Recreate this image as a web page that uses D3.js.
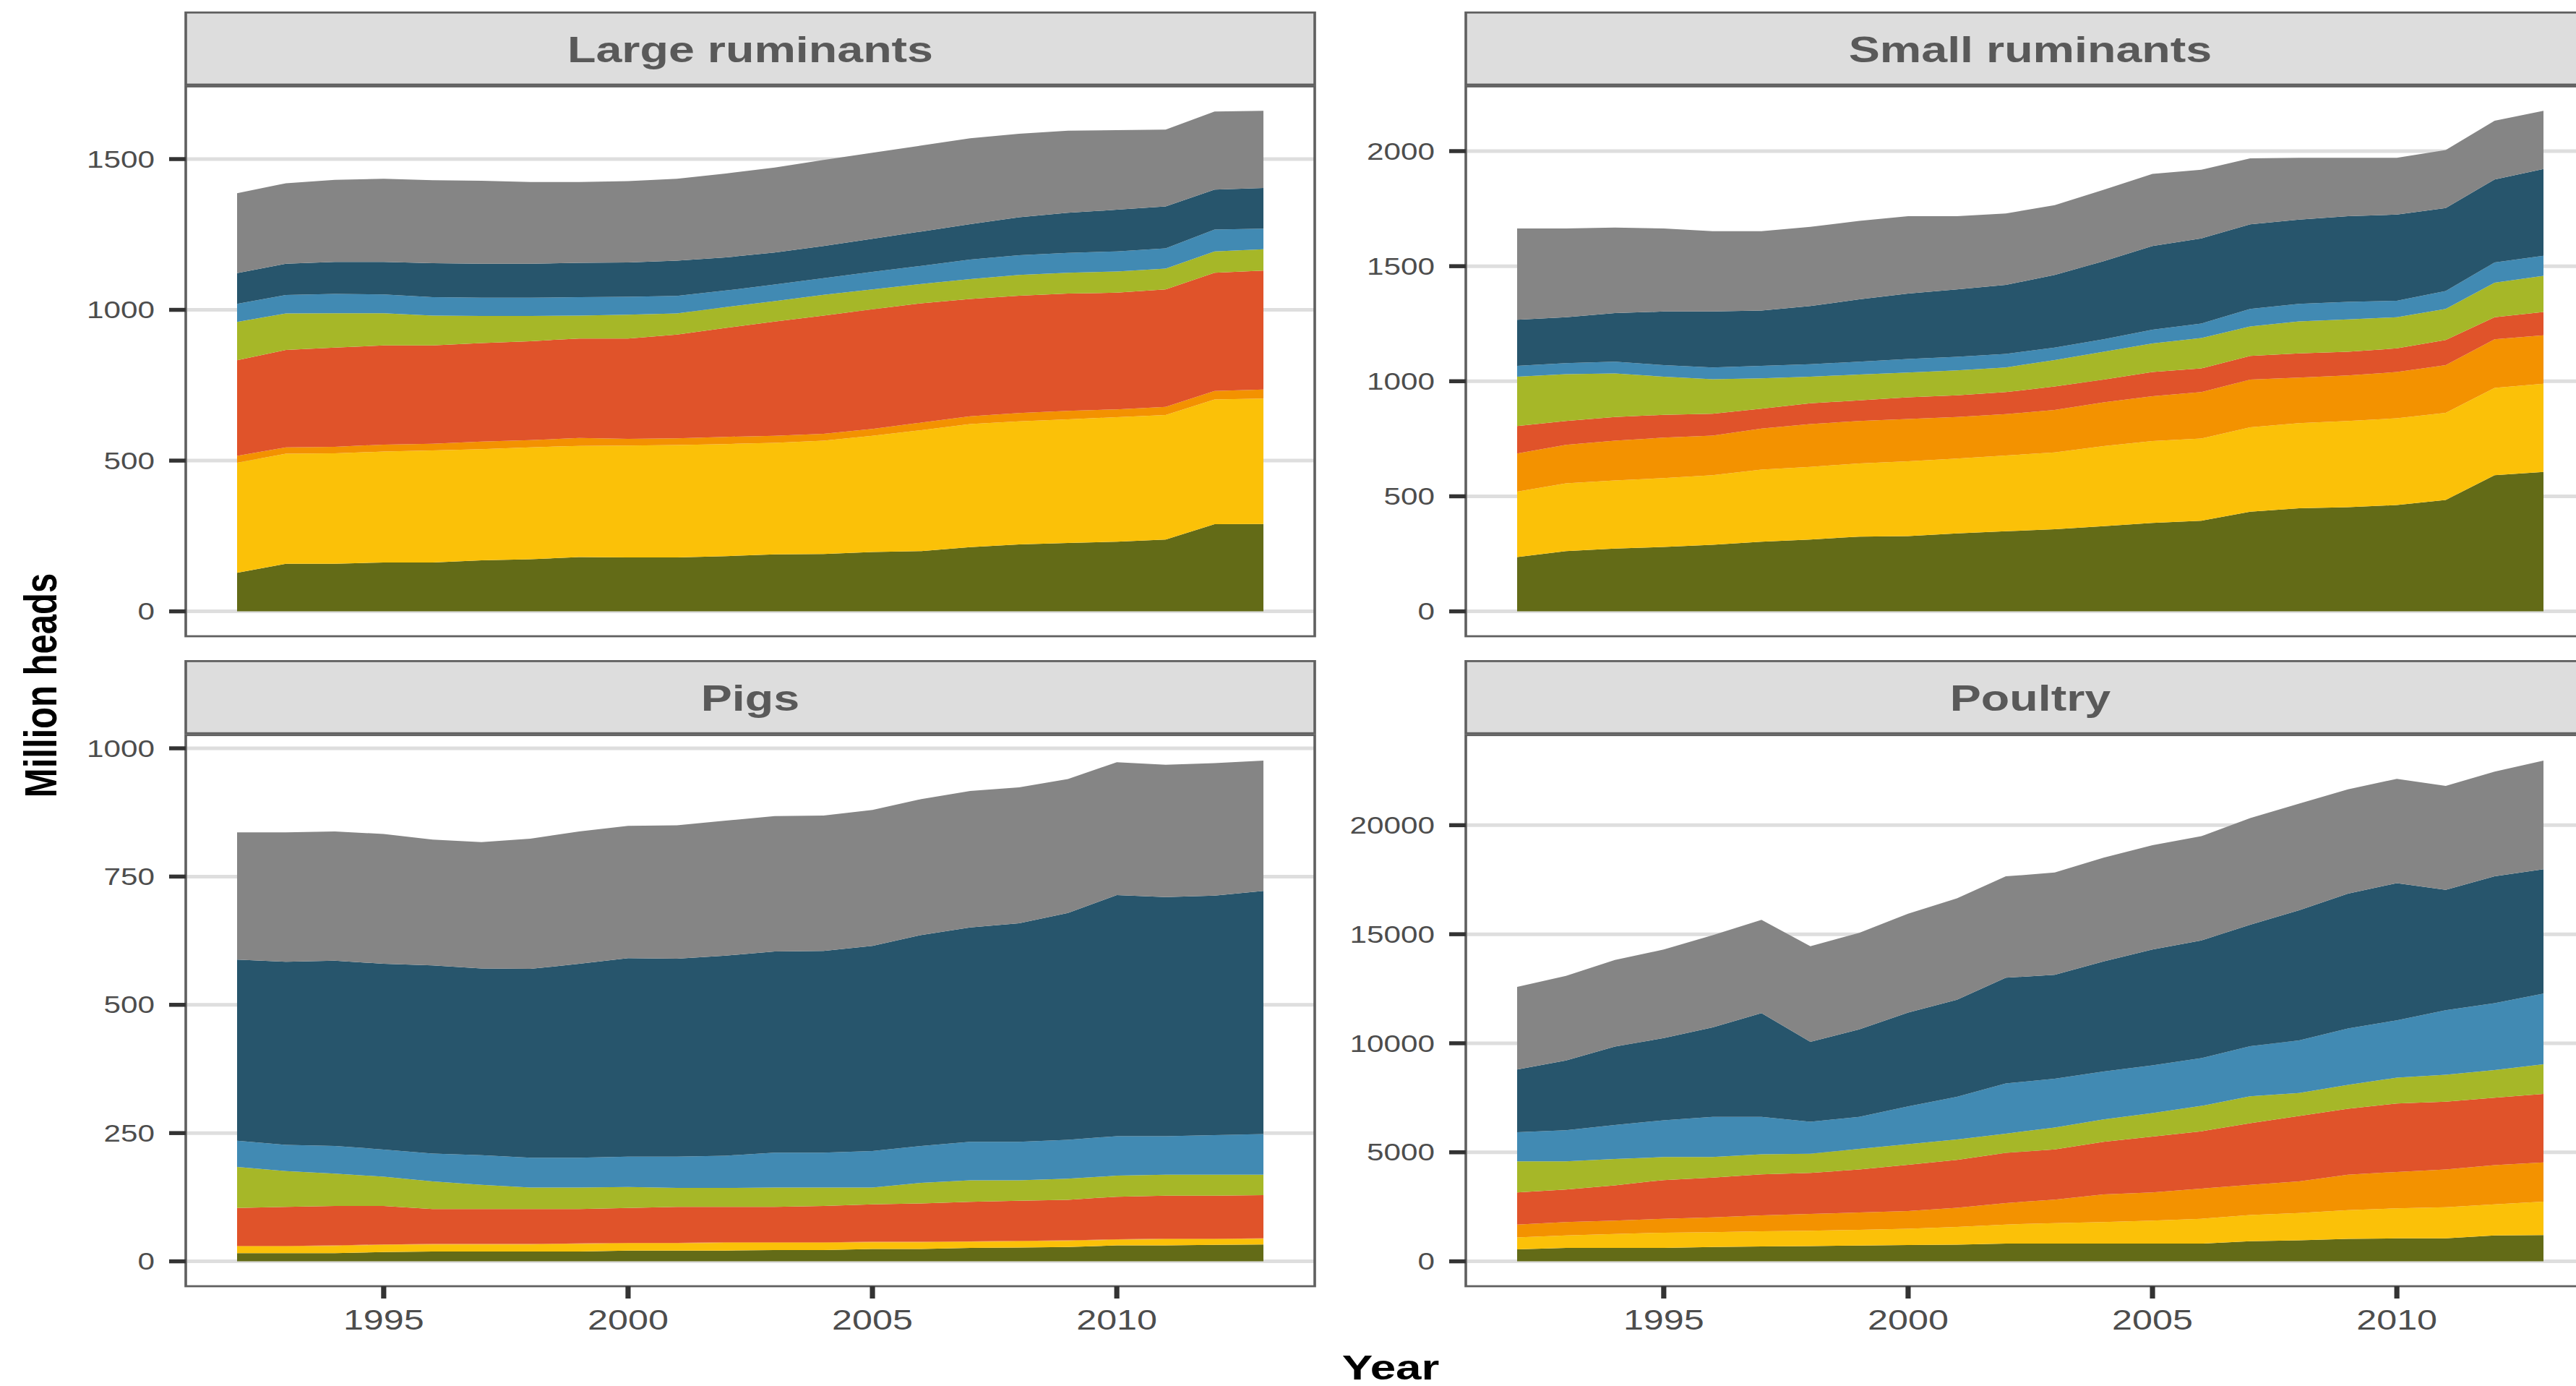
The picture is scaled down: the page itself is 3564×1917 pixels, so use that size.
<!DOCTYPE html>
<html>
<head>
<meta charset="utf-8">
<script src="https://cdn.jsdelivr.net/npm/d3@7"></script>
<style>
  html, body { margin: 0; padding: 0; background: #ffffff; overflow: hidden; }
  svg { display: block; }
</style>
</head>
<body>
<svg id="chart" width="3564" height="1917"></svg>
<script>
// ---- data -------------------------------------------------------------
const years = [1992, 1993, 1994, 1995, 1996, 1997, 1998, 1999, 2000, 2001, 2002,
               2003, 2004, 2005, 2006, 2007, 2008, 2009, 2010, 2011, 2012, 2013];

// stacking order, bottom to top
const seriesKeys = ["g1", "g2", "g3", "g4", "g5", "g6", "g7", "g8"];
const seriesColors = ["#636b17", "#fbc108", "#f39200", "#e0532a",
                      "#a6b728", "#418ab3", "#27556c", "#858585"];

// million heads, one row per series (g1..g8)
const largeRuminants = [
  [128,158,158,162,162,169,173,180,179,179,183,189,190,197,200,213,222,227,231,238,289,290],
  [365,365,366,368,372,369,371,369,371,373,372,370,376,385,401,408,408,410,413,413,414,416],
  [23,21,22,23,22,25,24,26,22,22,24,23,23,23,25,26,28,28,26,27,28,30],
  [317,323,329,329,326,327,328,330,333,344,361,379,392,397,396,389,389,389,387,390,392,394],
  [127,121,114,107,99,90,84,76,79,70,69,68,69,66,64,66,69,69,70,69,71,71],
  [60,61,64,62,61,60,60,61,59,58,55,55,55,58,60,65,65,66,67,67,72,68],
  [102,104,106,108,113,113,113,114,114,117,110,106,107,110,114,117,126,133,138,139,133,135],
  [265,267,272,276,275,275,271,268,270,272,278,282,285,285,285,285,277,272,264,255,259,256]
];

const smallRuminants = [
  [236,262,273,280,289,303,312,325,327,339,348,357,370,384,394,433,448,453,462,484,592,606],
  [284,294,296,299,303,313,316,318,325,325,329,334,348,356,357,367,370,374,377,379,379,383],
  [166,168,173,176,172,178,186,184,184,181,180,184,190,195,202,207,198,198,201,207,211,211],
  [119,103,103,99,95,87,90,90,94,94,96,102,99,105,103,103,105,103,103,109,96,101],
  [215,204,189,166,150,132,116,112,108,108,107,115,121,124,132,128,139,141,135,135,150,157],
  [47,48,51,50,51,54,54,56,59,59,59,54,54,60,63,76,76,76,72,78,88,87],
  [200,199,211,233,243,240,253,271,284,293,300,316,340,364,370,368,366,372,374,361,361,377],
  [397,386,372,361,349,345,344,341,336,318,310,303,310,313,298,287,269,254,247,252,255,253]
];

const pigs = [
  [16,16,16,18,19,19,19,19,21,21,21,22,22,24,24,26,27,28,31,31,32,33],
  [13,13,14,14,14,14,14,15,14,14,15,14,14,13,13,12,12,12,11,12,11,11],
  [1,1,1,1,1,1,1,1,1,1,1,1,1,1,1,1,1,1,1,1,1,1],
  [74,76,77,75,68,68,68,67,68,70,69,69,71,73,75,77,78,79,83,84,84,84],
  [80,70,63,57,54,47,42,42,41,37,37,38,36,33,40,42,40,41,41,41,41,40],
  [51,51,54,53,54,58,58,58,59,61,63,68,68,71,72,75,75,76,77,75,77,79],
  [353,357,361,362,367,364,368,378,387,386,390,392,393,400,411,418,426,442,470,466,467,474],
  [248,252,252,253,245,246,254,258,258,260,263,264,264,265,265,266,265,261,259,258,258,254]
];

const poultry = [
  [548,614,614,614,658,680,702,724,746,768,811,811,811,811,811,921,965,1031,1053,1053,1184,1206],
  [548,570,636,702,680,702,702,723,745,811,878,943,987,1053,1141,1206,1250,1315,1381,1425,1426,1535],
  [593,614,614,636,680,723,767,790,812,877,986,1075,1272,1294,1381,1382,1447,1623,1667,1733,1798,1798],
  [1469,1491,1623,1776,1820,1886,1886,1974,2127,2193,2303,2303,2412,2566,2632,2829,3005,3027,3136,3114,3092,3136],
  [1425,1294,1206,1053,943,921,877,943,943,943,877,1008,1031,1074,1162,1228,1052,1096,1184,1228,1272,1360],
  [1338,1426,1557,1688,1842,1711,1470,1469,1732,1952,2303,2237,2193,2193,2193,2302,2413,2588,2632,2960,3070,3246],
  [2873,3202,3596,3772,4101,4759,3662,4013,4299,4452,4846,4759,5044,5307,5395,5571,5964,6184,6293,5526,5812,5701],
  [3794,3881,3970,4057,4232,4276,4386,4430,4539,4649,4650,4693,4759,4781,4781,4890,4891,4781,4781,4759,4802,4979]
];

const panelTitles = ["Large ruminants", "Small ruminants", "Pigs", "Poultry"];
const yTicksLarge = [0, 500, 1000, 1500];
const yTicksSmall = [0, 500, 1000, 1500, 2000];
const yTicksPigs = [0, 250, 500, 750, 1000];
const yTicksPoultry = [0, 5000, 10000, 15000, 20000];
const xTicks = [1995, 2000, 2005, 2010];

const panelData = [largeRuminants, smallRuminants, pigs, poultry];
const panelYTicks = [yTicksLarge, yTicksSmall, yTicksPigs, yTicksPoultry];

// ---- layout -----------------------------------------------------------
// The whole drawing is laid out in a narrower frame and widened horizontally.
const SX = 1.3;
const cols = [[257 / SX, 1819 / SX], [2028 / SX, 3590 / SX]];
const rows = [
  { stripTop: 17.3, stripBottom: 117, panelTop: 119.5, panelBottom: 880, yRange: [880.2, 118.7], stripBase: 86 },
  { stripTop: 914.4, stripBottom: 1014.2, panelTop: 1016.7, panelBottom: 1779, yRange: [1779.2, 1017.4], stripBase: 982.6 }
];

const borderColor = "#606060";
const gridColor = "#dedede";
const tickColor = "#333333";
const tickLabelColor = "#4d4d4d";
const fontFamily = "'Liberation Sans', Arial, Helvetica, sans-serif";

const svg = d3.select("#chart");
svg.append("rect").attr("width", 3564).attr("height", 1917).attr("fill", "#ffffff");
const root = svg.append("g").attr("transform", `scale(${SX},1)`);

panelData.forEach((series, i) => {
  const col = cols[i % 2];
  const row = rows[Math.floor(i / 2)];
  const isBottom = Math.floor(i / 2) === 1;

  const table = years.map((yr, j) => {
    const rec = { year: yr };
    seriesKeys.forEach((k, s) => { rec[k] = series[s][j]; });
    return rec;
  });
  const stacked = d3.stack().keys(seriesKeys)(table);
  const maxTotal = d3.max(stacked[stacked.length - 1], d => d[1]);

  const span = years[years.length - 1] - years[0];
  const x = d3.scaleLinear()
    .domain([years[0] - 0.05 * span, years[years.length - 1] + 0.05 * span])
    .range(col);
  const y = d3.scaleLinear()
    .domain([-0.05 * maxTotal, 1.05 * maxTotal])
    .range(row.yRange);

  const g = root.append("g");

  // panel background
  g.append("rect")
    .attr("x", col[0]).attr("y", row.panelTop)
    .attr("width", col[1] - col[0]).attr("height", row.panelBottom - row.panelTop)
    .attr("fill", "#ffffff");

  // horizontal grid
  g.selectAll("line.grid").data(panelYTicks[i]).join("line")
    .attr("class", "grid")
    .attr("x1", col[0]).attr("x2", col[1])
    .attr("y1", d => y(d)).attr("y2", d => y(d))
    .attr("stroke", gridColor).attr("stroke-width", 5);

  // stacked areas
  const area = d3.area()
    .x(d => x(d.data.year))
    .y0(d => y(d[0]))
    .y1(d => y(d[1]))
    .curve(d3.curveLinear);

  g.selectAll("path.layer").data(stacked).join("path")
    .attr("class", "layer")
    .attr("d", area)
    .attr("fill", (d, s) => seriesColors[s]);

  // panel border
  g.append("rect")
    .attr("x", col[0]).attr("y", row.panelTop)
    .attr("width", col[1] - col[0]).attr("height", row.panelBottom - row.panelTop)
    .attr("fill", "none").attr("stroke", borderColor).attr("stroke-width", 2.8);

  // strip
  g.append("rect")
    .attr("x", col[0]).attr("y", row.stripTop)
    .attr("width", col[1] - col[0]).attr("height", row.stripBottom - row.stripTop)
    .attr("fill", "#dddddd").attr("stroke", borderColor).attr("stroke-width", 2.8);
  g.append("text")
    .attr("x", (col[0] + col[1]) / 2).attr("y", row.stripBase)
    .attr("text-anchor", "middle")
    .attr("font-family", fontFamily).attr("font-weight", "bold")
    .attr("font-size", 49.7).attr("fill", "#595959")
    .text(panelTitles[i]);

  // y axis
  const tickLen = 17.7;
  g.selectAll("line.ytick").data(panelYTicks[i]).join("line")
    .attr("class", "ytick")
    .attr("x1", col[0] - tickLen).attr("x2", col[0])
    .attr("y1", d => y(d)).attr("y2", d => y(d))
    .attr("stroke", tickColor).attr("stroke-width", 5.5);
  g.selectAll("text.ylab").data(panelYTicks[i]).join("text")
    .attr("class", "ylab")
    .attr("x", col[0] - tickLen - 15.4)
    .attr("y", d => y(d) + 11.6)
    .attr("text-anchor", "end")
    .attr("font-family", fontFamily).attr("font-size", 32.5)
    .attr("fill", tickLabelColor)
    .text(d => String(d));

  // x axis on the bottom row only
  if (isBottom) {
    g.selectAll("line.xtick").data(xTicks).join("line")
      .attr("class", "xtick")
      .attr("x1", d => x(d)).attr("x2", d => x(d))
      .attr("y1", row.panelBottom).attr("y2", row.panelBottom + 17)
      .attr("stroke", tickColor).attr("stroke-width", 5.5);
    g.selectAll("text.xlab").data(xTicks).join("text")
      .attr("class", "xlab")
      .attr("x", d => x(d)).attr("y", 1839.3)
      .attr("text-anchor", "middle")
      .attr("font-family", fontFamily).attr("font-size", 38.7)
      .attr("fill", tickLabelColor)
      .text(d => String(d));
  }
});

// axis titles
root.append("text")
  .attr("transform", `translate(${78 / SX},948) rotate(-90)`)
  .attr("text-anchor", "middle")
  .attr("font-family", fontFamily).attr("font-weight", "bold")
  .attr("font-size", 49).attr("fill", "#000000")
  .text("Million heads");

root.append("text")
  .attr("x", 1924 / SX).attr("y", 1908)
  .attr("text-anchor", "middle")
  .attr("font-family", fontFamily).attr("font-weight", "bold")
  .attr("font-size", 49).attr("fill", "#000000")
  .text("Year");
</script>
</body>
</html>
